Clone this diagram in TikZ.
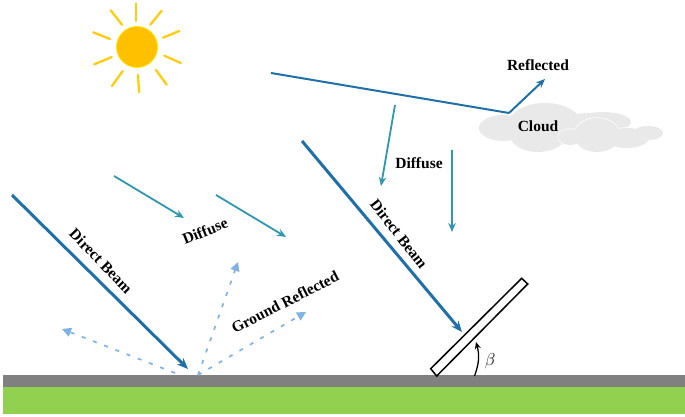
\documentclass[tikz,border=0pt]{standalone}
\usepackage{fontspec}
\setmainfont{Liberation Serif}
\usetikzlibrary{arrows.meta}
\definecolor{beamblue}{HTML}{1F6FA8}
\definecolor{diffteal}{HTML}{2F97AE}
\definecolor{groundblue}{HTML}{7FB2E5}
\definecolor{sunfill}{HTML}{FFC000}
\definecolor{raycol}{HTML}{FFCC10}
\definecolor{cloudgray}{HTML}{E9E9E9}
\definecolor{grassgreen}{HTML}{92D050}
\definecolor{roadgray}{HTML}{808080}
\tikzset{
	beam/.style={draw=beamblue,line width=3pt,-{Stealth[length=11pt,width=9pt]}},
	thinbeam/.style={draw=beamblue,line width=2pt},
	diffuse/.style={draw=diffteal,line width=1.8pt,-{Stealth[length=9pt,width=7.5pt]}},
	grefl/.style={draw=groundblue,line width=1.7pt,dash pattern=on 4pt off 8pt,-{Triangle[length=9pt,width=9pt]}},
	lbl/.style={inner sep=0pt,text=black,font=\fontsize{15.5}{17}\selectfont\bfseries},
}
\begin{document}
\begin{tikzpicture}[x=1pt,y=-1pt]
	\useasboundingbox (0,0) rectangle (685,417);

	\fill[roadgray] (3,375) rectangle (685,387);
	\fill[grassgreen] (3,387) rectangle (685,414);

	% sun
	\foreach \xa/\ya/\xb/\yb in {135.7/3.5/135.7/21,161.7/10.7/150.3/24.7,179.3/31/163/37.7,164.3/55.7/180.7/63,156/70/166.7/84.7,138/74.7/139/92.3,122.7/71/112/86,111.7/57/94.3/64.3,110/39/93.3/32.3,122/24.7/110.7/10.3}
	{
		\draw[raycol,line width=2.3pt,line cap=round] (\xa,\ya) -- (\xb,\yb);
	}
	\filldraw[draw=yellow!80!sunfill,fill=sunfill,line width=0.8pt] (137,47) circle (20.5);

	% cloud
	\foreach \cx/\cy/\rx/\ry in {503/128/24/13,545/125/37/22,538/135/28/17,588/122/24/9,603/122/28/10}
	{
		\fill[cloudgray] (\cx,\cy) ellipse ({\rx} and {\ry});
	}
	\foreach \cx/\cy/\rx/\ry in {570/137/12/8,597/135/23/17,627/138/22/10,648/133/15/7}
	{
		\fill[white] (\cx,\cy) ellipse ({\rx+0.7} and {\ry+0.7});
	}
	\foreach \cx/\cy/\rx/\ry in {570/137/12/8,597/135/23/17,627/138/22/10,648/133/15/7}
	{
		\fill[cloudgray] (\cx,\cy) ellipse ({\rx} and {\ry});
	}

	\coordinate (incloud) at (271,73);
	\coordinate (cloudhit) at (509,113);
	\coordinate (reflend) at (545,79);
	\coordinate (dira) at (12,195);
	\coordinate (dirb) at (188,369);
	\coordinate (dirc) at (302,141);
	\coordinate (dird) at (462,332);
	\coordinate (gleft) at (175,373);
	\coordinate (gleftend) at (62,329);
	\coordinate (gmid) at (198,375);
	\coordinate (gupend) at (238,262);
	\coordinate (grightend) at (306,312);
	\coordinate (arcstart) at (474.5,376);
	\coordinate (arcend) at (476,342);

	\draw[thinbeam] (incloud) -- (cloudhit);
	\draw[thinbeam,-{Stealth[length=9pt,width=7.5pt]}] (cloudhit) -- (reflend);
	\draw[beam] (dira) -- (dirb);
	\draw[beam] (dirc) -- (dird);

	\draw[diffuse] (114,176) -- (184,218);
	\draw[diffuse] (216,195) -- (286,237);
	\draw[diffuse] (395,105) -- (381,186);
	\draw[diffuse] (452,150) -- (452,232);

	\draw[grefl] (gleft) -- (gleftend);
	\draw[grefl] (gmid) -- (gupend);
	\draw[grefl] (gmid) -- (grightend);

	% panel
	\draw[line width=1.5pt,fill=white] (430.7,368.7) -- (436.7,376) -- (527.7,284) -- (521.7,278.3) -- cycle;
	\draw[line width=1.3pt,-{Stealth[length=7pt,width=6pt]}] (arcstart) to[bend right=18] (arcend);

	\node[lbl,rotate=-46] (dirleft) at (101,261) {Direct Beam};
	\node[lbl,rotate=-52] (dirright) at (399,234) {Direct Beam};
	\node[lbl,rotate=22] (diffleft) at (205,231) {Diffuse};
	\node[lbl] (diffright) at (419,163) {Diffuse};
	\node[lbl,rotate=27] (grlabel) at (285,302) {Ground Reflected};
	\node[lbl] (refl) at (538,65) {Reflected};
	\node[lbl] (cloud) at (538,126) {Cloud};
	\node[inner sep=0pt,text=black,font=\fontsize{18}{20}\selectfont] (beta) at (490,361) {$\beta$};
\end{tikzpicture}
\end{document}
